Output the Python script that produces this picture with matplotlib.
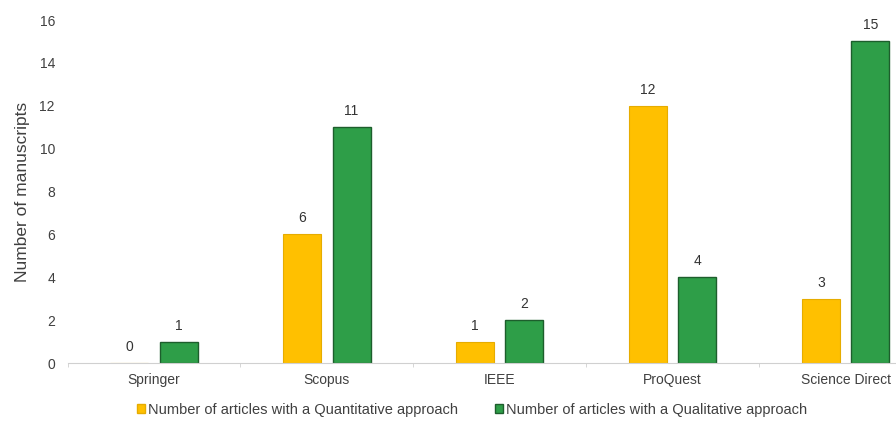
import matplotlib
matplotlib.use("Agg")
import matplotlib.pyplot as plt
import numpy as np
from matplotlib.patches import Patch

plt.rcParams['font.family'] = ['Liberation Sans', 'DejaVu Sans']

categories = ["Springer", "Scopus", "IEEE", "ProQuest", "Science Direct"]
quantitative = [0, 6, 1, 12, 3]
qualitative = [1, 11, 2, 4, 15]
series_names = ["Number of articles with a Quantitative approach",
                "Number of articles with a Qualitative approach"]
yticks = [0, 2, 4, 6, 8, 10, 12, 14, 16]

W, H = 896, 423
fig = plt.figure(figsize=(W / 100, H / 100), dpi=100)
left, right, bottom, top = 67.5, 932, 363, 20
ax = fig.add_axes([left / W, 1 - bottom / H, (right - left) / W, (bottom - top) / H])

x = np.arange(len(categories))
bw = 0.22
off = 0.143
yellow, yedge = "#FFC000", "#E6AC00"
green, gedge = "#2E9E48", "#1D5E2C"
b1 = ax.bar(x - off, quantitative, bw, color=yellow, edgecolor=yedge, linewidth=0.8)
b2 = ax.bar(x + off, qualitative, bw, color=green, edgecolor=gedge, linewidth=1.0)

txt = "#404040"
for bars in (b1, b2):
    for rect in bars:
        h = rect.get_height()
        ax.annotate(f"{int(h)}", (rect.get_x() + rect.get_width() / 2, h),
                    xytext=(0, 6.5), textcoords="offset points", ha="center", va="bottom",
                    fontsize=10, color="#333333")

ax.set_xlim(-0.5, 4.5)
ax.set_ylim(0, 16)
ax.set_yticks(yticks)
ax.set_xticks(x)
ax.set_xticklabels(categories, fontsize=10, color=txt)
ax.tick_params(axis="y", length=0, labelsize=10, labelcolor=txt, pad=9)
ax.tick_params(axis="x", length=0, pad=7)
ax.set_xticks(np.arange(-0.5, 5, 1), minor=True)
ax.tick_params(axis="x", which="minor", length=3, color="#d0d0d0")
for s in ("top", "right", "left"):
    ax.spines[s].set_visible(False)
ax.spines["bottom"].set_color("#d0d0d0")
ax.set_ylabel("Number of manuscripts", fontsize=12.5, color=txt)
ax.yaxis.set_label_coords((30 - left) / (right - left), 0.5)

handles = [Patch(facecolor=yellow, edgecolor=yedge), Patch(facecolor=green, edgecolor=gedge)]
fig.legend(handles, series_names, loc="center", bbox_to_anchor=(472 / W, 1 - 410 / H),
           ncol=2, frameon=False, fontsize=10.5, handlelength=0.55, handleheight=0.55,
           handletextpad=0.25, columnspacing=2.5, labelcolor=txt)

fig.savefig("out.png", dpi=100)
